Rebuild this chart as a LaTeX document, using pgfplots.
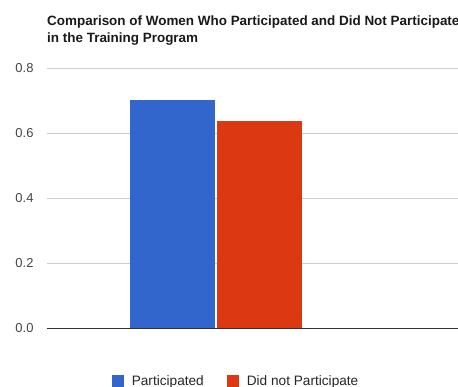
\documentclass[border=0pt]{standalone}
\usepackage{pgfplots}
\pgfplotsset{compat=1.18}
\usepackage{fontspec}
\setmainfont{Liberation Sans}
\definecolor{gblue}{HTML}{3366CC}
\definecolor{gred}{HTML}{DC3912}
\definecolor{ggrid}{HTML}{CCCCCC}
\definecolor{glabel}{HTML}{444444}
\begin{document}
\begin{tikzpicture}
\useasboundingbox (0,0) rectangle (458bp,387bp);
\clip (0,0) rectangle (458bp,387bp);
\node[anchor=base west, inner sep=0pt, font=\fontsize{13.5}{15}\selectfont\bfseries, text=black!90] at (47bp,361bp) {Comparison of Women Who Participated and Did Not Participate};
\node[anchor=base west, inner sep=0pt, font=\fontsize{13.5}{15}\selectfont\bfseries, text=black!90] at (47bp,344bp) {in the Training Program};
\begin{axis}[
  at={(47bp,59bp)}, anchor=south west,
  scale only axis, width=411bp, height=260bp,
  xmin=-169, xmax=242, ymin=0, ymax=0.8,
  ytick={0,0.2,0.4,0.6,0.8},
  xtick=\empty,
  axis line style={draw=none},
  major tick length=0pt,
  ymajorgrids, grid style={ggrid, line width=0.8pt},
  /pgf/number format/fixed,
  /pgf/number format/fixed zerofill,
  /pgf/number format/precision=1,
  /pgf/number format/assume math mode=true,
  tick label style={font=\fontsize{13}{15}\selectfont, text=glabel},
  yticklabel style={xshift=-10bp},
  extra y ticks={0}, extra y tick labels={},
  extra y tick style={grid style={black!80, line width=0.9pt}},
  legend style={at={(0.46,-0.205)}, anchor=center, draw=none, fill=none,
    legend columns=2, font=\fontsize{13.7}{16}\selectfont, text=black!85,
    /tikz/every odd column/.append style={column sep=6bp},
    /tikz/every even column/.append style={column sep=21bp}},
  legend cell align=left,
  legend image code/.code={\fill[#1] (0bp,-6bp) rectangle (12bp,6bp);},
]
\addplot[ybar, bar width=85, bar shift=0pt, fill=gblue, draw=none] coordinates {(-43.5,0.70)};
\addlegendentry{Participated}
\addplot[ybar, bar width=85, bar shift=0pt, fill=gred, draw=none] coordinates {(43.5,0.637)};
\addlegendentry{Did not Participate}
\end{axis}
\end{tikzpicture}
\end{document}
